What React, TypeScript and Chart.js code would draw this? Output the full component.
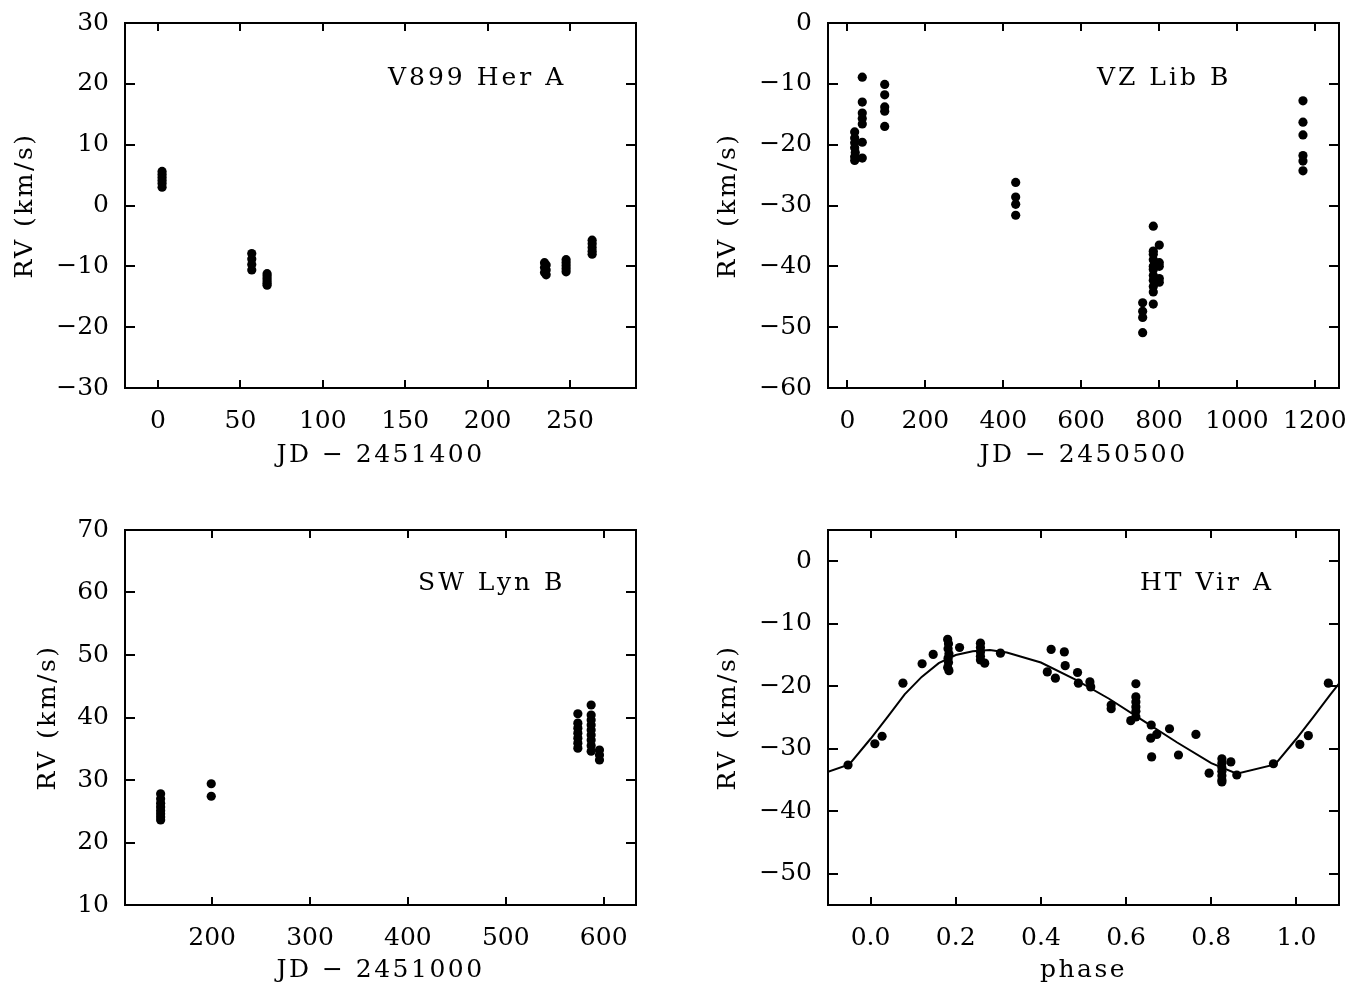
import React, { useEffect, useRef } from 'react';
import { Chart, registerables } from 'chart.js';

Chart.register(...registerables);

const FONT = "'DejaVu Serif', 'Liberation Serif', serif";
const FSIZE = 25;

// ---------- V899 Her A ----------
const herJD = [2.5, 2.5, 2.5, 2.5, 2.5, 2.5, 56.9, 56.9, 56.9, 56.9, 66.2, 66.2, 66.2, 66.2, 66.2, 66.2,
  234.5, 235.5, 234.5, 235.5, 234.5, 235.5, 247.6, 247.6, 247.6, 247.6, 247.6, 263.4, 263.4, 263.4, 263.4, 263.4];
const herRV = [5.6, 5.1, 4.6, 4.1, 3.6, 3.0, -7.9, -8.8, -9.7, -10.6, -11.2, -11.6, -12.0, -12.4, -12.8, -13.1,
  -9.4, -9.8, -10.2, -10.6, -11.0, -11.4, -8.9, -9.4, -9.9, -10.4, -10.9, -5.7, -6.3, -6.9, -7.5, -8.0];
const herXTicks = [0, 50, 100, 150, 200, 250];
const herYTicks = [-30, -20, -10, 0, 10, 20, 30];

// ---------- VZ Lib B ----------
const vzJD = [18.5, 18.5, 18.5, 18.5, 18.5, 18.5, 20, 38, 38, 38, 38, 38, 38, 38, 95.6, 95.6, 95.6, 95.6, 95.6,
  431.9, 431.9, 431.9, 431.9, 757.9, 757.9, 757.9, 757.9,
  785.2, 785.2, 785.2, 785.2, 785.2, 785.2, 785.2, 785.2, 785.2, 785.2, 785.2,
  800.6, 800.6, 800.6, 800.6, 800.6, 1169.5, 1169.5, 1169.5, 1169.5, 1169.5, 1169.5];
const vzRV = [-17.9, -18.9, -19.7, -20.5, -22.0, -22.6, -21.3, -8.9, -13.0, -14.8, -15.7, -16.6, -19.6, -22.2,
  -10.1, -11.8, -13.8, -14.5, -17.0, -26.2, -28.6, -29.8, -31.6, -46.0, -47.4, -48.4, -50.9,
  -33.4, -37.5, -38.0, -38.9, -40.0, -40.5, -41.5, -42.3, -43.3, -44.2, -46.2,
  -36.5, -39.4, -40.0, -42.0, -42.6, -12.8, -16.3, -18.4, -21.8, -22.7, -24.3];
const vzXTicks = [0, 200, 400, 600, 800, 1000, 1200];
const vzYTicks = [-60, -50, -40, -30, -20, -10, 0];

// ---------- SW Lyn B ----------
const swJD = [147.4, 147.4, 147.4, 147.4, 147.4, 147.4, 147.4, 147.4, 199.1, 199.1,
  573.6, 573.6, 573.6, 573.6, 573.6, 573.6, 573.6,
  587.2, 587.2, 587.2, 587.2, 587.2, 587.2, 587.2, 587.2, 587.2, 595.7, 595.7, 595.7];
const swRV = [27.8, 27.0, 26.3, 25.7, 25.1, 24.6, 24.1, 23.6, 29.4, 27.4,
  40.6, 39.1, 38.3, 37.5, 36.7, 35.9, 35.1,
  42.0, 40.4, 39.6, 38.8, 38.0, 37.2, 36.4, 35.5, 34.6, 34.8, 34.0, 33.2];
const swXTicks = [200, 300, 400, 500, 600];
const swYTicks = [10, 20, 30, 40, 50, 60, 70];

// ---------- HT Vir A ----------
const htPhase = [-0.053, 0.010, 0.027, 0.076, 0.121, 0.147,
  0.181, 0.183, 0.182, 0.184, 0.182, 0.183, 0.181, 0.184,
  0.209, 0.258, 0.258, 0.258, 0.258, 0.258, 0.268, 0.305,
  0.424, 0.455, 0.457, 0.415, 0.434, 0.486, 0.488, 0.515, 0.517, 0.565, 0.565,
  0.623, 0.623, 0.623, 0.623, 0.623, 0.623, 0.611, 0.659, 0.672, 0.658, 0.660,
  0.702, 0.723, 0.764, 0.795, 0.825, 0.825, 0.825, 0.825, 0.825, 0.825, 0.825,
  0.846, 0.860, 0.946, 1.008, 1.028, 1.075];
const htRV = [-32.6, -29.2, -28.0, -19.5, -16.4, -14.9,
  -12.5, -13.2, -14.0, -14.8, -15.5, -16.2, -17.0, -17.5,
  -13.8, -13.1, -13.8, -14.5, -15.2, -15.8, -16.3, -14.7,
  -14.1, -14.5, -16.7, -17.7, -18.7, -17.8, -19.5, -19.3, -20.1, -23.0, -23.6,
  -19.6, -21.7, -22.5, -23.3, -24.0, -24.9, -25.5, -26.2, -27.7, -28.3, -31.3,
  -26.8, -31.0, -27.7, -33.9, -31.6, -32.3, -33.0, -33.6, -34.3, -35.0, -35.3,
  -32.1, -34.2, -32.4, -29.3, -27.9, -19.5];
const htFitPhase = [-0.10, -0.05, 0.00, 0.04, 0.08, 0.12, 0.16, 0.20, 0.24, 0.28, 0.32, 0.40, 0.48, 0.56,
  0.64, 0.72, 0.80, 0.86, 0.95, 1.00, 1.04, 1.08, 1.10];
const htFitRV = [-33.7, -32.5, -28.4, -24.9, -21.3, -18.5, -16.3, -15.0, -14.4, -14.2, -14.6, -16.2, -18.9,
  -22.0, -25.5, -29.0, -32.3, -34.0, -32.5, -28.4, -24.9, -21.3, -19.6];
const htXTicks = [0.0, 0.2, 0.4, 0.6, 0.8, 1.0];
const htYTicks = [-50, -40, -30, -20, -10, 0];

const pts = (xs: number[], ys: number[]) => xs.map((x, i) => ({ x, y: ys[i] }));
const minus = (v: number) => String(v).replace('-', '\u2212');

const framePlugin = {
  id: 'frame',
  beforeDraw(chart: any) {
    // axis titles are drawn with a slightly wider spacing (Hershey-like look)
    (chart.ctx as any).letterSpacing = '2.5px';
  },
  beforeDatasetsDraw(chart: any) {
    // tick labels (z:1) are drawn after datasets with normal spacing
    (chart.ctx as any).letterSpacing = '0px';
  },
  afterDraw(chart: any, _args: any, opts: any) {
    const { ctx, chartArea: a, scales } = chart;
    ctx.save();
    ctx.strokeStyle = '#000';
    ctx.lineWidth = 2;
    ctx.strokeRect(a.left, a.top, a.right - a.left, a.bottom - a.top);
    ctx.beginPath();
    scales.x.ticks.forEach((t: any) => {
      const p = Math.round(scales.x.getPixelForValue(t.value));
      ctx.moveTo(p, a.bottom); ctx.lineTo(p, a.bottom - 8);
      ctx.moveTo(p, a.top); ctx.lineTo(p, a.top + 8);
    });
    scales.y.ticks.forEach((t: any) => {
      const p = Math.round(scales.y.getPixelForValue(t.value));
      ctx.moveTo(a.left, p); ctx.lineTo(a.left + 10, p);
      ctx.moveTo(a.right, p); ctx.lineTo(a.right - 10, p);
    });
    ctx.stroke();
    ctx.font = `${FSIZE}px ${FONT}`;
    ctx.fillStyle = '#000';
    ctx.textAlign = 'left';
    ctx.textBaseline = 'middle';
    (ctx as any).letterSpacing = '3px';
    ctx.fillText(opts.text, a.left + opts.dx, a.top + opts.dy);
    ctx.restore();
  },
};

type Spec = {
  left: number; top: number; w: number; h: number;
  area: { l: number; t: number; r: number; b: number };
  xMin: number; xMax: number; yMin: number; yMax: number;
  xTicks: number[]; yTicks: number[];
  xTitle: string; xTitlePad: number; yTitlePad: number;
  label: string; dx: number; dy: number;
  datasets: any[];
  xFmt?: (v: number) => string;
};

const dotStyle = {
  pointRadius: 4.6,
  pointBackgroundColor: '#000',
  pointBorderWidth: 0,
  pointHoverRadius: 4.6,
  showLine: false,
};

function Panel({ s }: { s: Spec }) {
  const ref = useRef<HTMLCanvasElement>(null);
  useEffect(() => {
    const fontTick = { family: FONT, size: FSIZE };
    const chart = new Chart(ref.current as HTMLCanvasElement, {
      type: 'scatter',
      data: { datasets: s.datasets },
      options: {
        animation: false,
        responsive: false,
        events: [],
        layout: { padding: { left: 0, top: s.area.t, right: s.w - s.area.r, bottom: 0 } },
        plugins: {
          legend: { display: false },
          tooltip: { enabled: false },
          frame: { text: s.label, dx: s.dx, dy: s.dy },
        } as any,
        scales: {
          x: {
            type: 'linear',
            bounds: 'data',
            min: s.xMin,
            max: s.xMax,
            grid: { display: false },
            border: { display: false },
            afterBuildTicks: (sc: any) => { sc.ticks = s.xTicks.map((v) => ({ value: v })); },
            afterFit: (sc: any) => { sc.height = s.h - s.area.b; },
            ticks: {
              z: 1,
              autoSkip: false,
              maxRotation: 0,
              padding: 10,
              color: '#000',
              font: fontTick,
              callback: (v: any) => (s.xFmt ? s.xFmt(Number(v)) : minus(Number(v))),
            },
            title: {
              display: true,
              text: s.xTitle,
              color: '#000',
              font: fontTick,
              padding: { top: 0, bottom: s.xTitlePad },
            },
          },
          y: {
            type: 'linear',
            bounds: 'data',
            min: s.yMin,
            max: s.yMax,
            grid: { display: false },
            border: { display: false },
            afterBuildTicks: (sc: any) => { sc.ticks = s.yTicks.map((v) => ({ value: v })); },
            afterFit: (sc: any) => { sc.width = s.area.l; },
            ticks: {
              z: 1,
              autoSkip: false,
              padding: 8,
              color: '#000',
              font: fontTick,
              callback: (v: any) => minus(Number(v)),
            },
            title: {
              display: true,
              text: 'RV (km/s)',
              color: '#000',
              font: fontTick,
              padding: { top: s.yTitlePad, bottom: 0 },
            },
          },
        },
      } as any,
      plugins: [framePlugin as any],
    });
    return () => chart.destroy();
  }, []);
  return (
    <canvas
      ref={ref}
      width={s.w}
      height={s.h}
      style={{ position: 'absolute', left: s.left, top: s.top, width: s.w, height: s.h }}
    />
  );
}

const specs: Spec[] = [
  {
    left: 0, top: 0, w: 683, h: 494, area: { l: 125, t: 12, r: 636, b: 388 },
    xMin: -20, xMax: 290, yMin: -30, yMax: 30, xTicks: herXTicks, yTicks: herYTicks,
    xTitle: 'JD \u2212 2451400', xTitlePad: 24, yTitlePad: 10,
    label: 'V899 Her A', dx: 263, dy: 55,
    datasets: [{ data: pts(herJD, herRV), ...dotStyle }],
  },
  {
    left: 683, top: 0, w: 684, h: 494, area: { l: 145, t: 12, r: 656, b: 388 },
    xMin: -50, xMax: 1262, yMin: -60, yMax: 0, xTicks: vzXTicks, yTicks: vzYTicks,
    xTitle: 'JD \u2212 2450500', xTitlePad: 24, yTitlePad: 30,
    label: 'VZ Lib B', dx: 269, dy: 55,
    datasets: [{ data: pts(vzJD, vzRV), ...dotStyle }],
  },
  {
    left: 0, top: 494, w: 683, h: 494, area: { l: 125, t: 36, r: 636, b: 411 },
    xMin: 111, xMax: 633, yMin: 10, yMax: 70, xTicks: swXTicks, yTicks: swYTicks,
    xTitle: 'JD \u2212 2451000', xTitlePad: 3, yTitlePad: 33,
    label: 'SW Lyn B', dx: 293, dy: 53,
    datasets: [{ data: pts(swJD, swRV), ...dotStyle }],
  },
  {
    left: 683, top: 494, w: 684, h: 494, area: { l: 145, t: 36, r: 656, b: 411 },
    xMin: -0.1, xMax: 1.1, yMin: -55, yMax: 5, xTicks: htXTicks, yTicks: htYTicks,
    xTitle: 'phase', xTitlePad: 3, yTitlePad: 30,
    label: 'HT Vir A', dx: 312, dy: 53,
    xFmt: (v: number) => v.toFixed(1),
    datasets: [
      {
        data: pts(htFitPhase, htFitRV),
        showLine: true,
        borderColor: '#000',
        borderWidth: 2,
        pointRadius: 0,
        tension: 0,
        fill: false,
      },
      { data: pts(htPhase, htRV), ...dotStyle },
    ],
  },
];

export default function App() {
  return (
    <div style={{ position: 'absolute', left: 0, top: 0, width: 1367, height: 988, background: '#fff' }}>
      {specs.map((s, i) => (
        <Panel key={i} s={s} />
      ))}
    </div>
  );
}
